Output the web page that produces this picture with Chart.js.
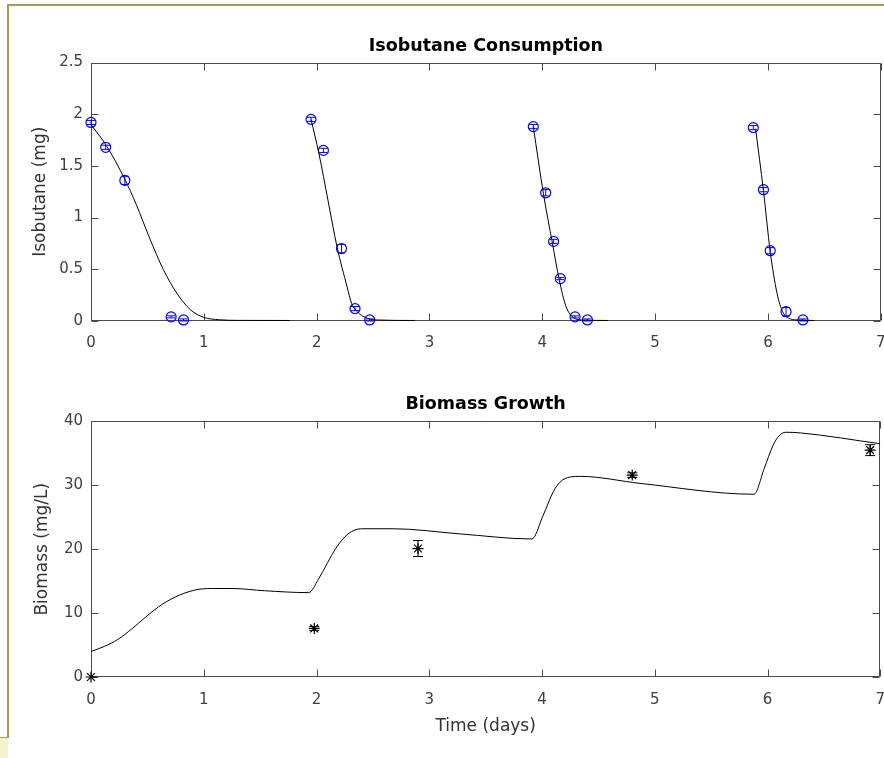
<!DOCTYPE html>
<html>
<head>
<meta charset="utf-8">
<script src="https://cdn.jsdelivr.net/npm/chart.js@4/dist/chart.umd.min.js"></script>
<style>
  html, body { margin:0; padding:0; background:#ffffff; }
  body { width:884px; height:758px; position:relative; overflow:hidden; }
  canvas { position:absolute; left:0; }
  #c1 { top:0; }
  #c2 { top:379px; }
  .frame { position:absolute; background:#9e9c55; z-index:5; }
  #boxbl { position:absolute; left:0; top:737px; width:8px; height:21px; background:#f3f3cf; border-top:1px solid #9e9c55; z-index:5; }
</style>
</head>
<body>
<canvas id="c1" width="887" height="379"></canvas>
<canvas id="c2" width="887" height="379"></canvas>
<div class="frame" style="left:7px;top:4px;width:877px;height:2px;"></div>
<div class="frame" style="left:7px;top:4px;width:2px;height:734px;"></div>
<div id="boxbl"></div>
<script>
// ---------- Data ----------
const xTickValues = [0, 1, 2, 3, 4, 5, 6, 7];

// Isobutane measurements (mg)
const isoT   = [0, 0.13, 0.30, 0.71, 0.82, 1.95, 2.06, 2.22, 2.34, 2.47, 3.92, 4.03, 4.10, 4.16, 4.29, 4.40, 5.87, 5.96, 6.02, 6.16, 6.31];
const isoY   = [1.92, 1.68, 1.36, 0.04, 0.01, 1.95, 1.65, 0.70, 0.12, 0.01, 1.88, 1.24, 0.77, 0.41, 0.04, 0.01, 1.87, 1.27, 0.68, 0.09, 0.01];
const isoErr = [0.02, 0.02, 0.04, 0.01, 0.01, 0.02, 0.02, 0.04, 0.02, 0.01, 0.02, 0.03, 0.02, 0.01, 0.01, 0.01, 0.02, 0.02, 0.03, 0.04, 0.01];

// Isobutane model curves (one per feeding cycle)
const isoModelT1 = [0, 0.14, 0.30, 0.40, 0.52, 0.64, 0.76, 0.88, 1.00, 1.14, 1.30, 1.76];
const isoModelY1 = [1.90, 1.69, 1.37, 1.13, 0.80, 0.50, 0.27, 0.11, 0.035, 0.012, 0.006, 0.005];
const isoModelT2 = [1.95, 2.02, 2.10, 2.18, 2.27, 2.31, 2.37, 2.42, 2.53, 2.87];
const isoModelY2 = [1.95, 1.62, 1.17, 0.72, 0.33, 0.17, 0.08, 0.04, 0.01, 0.005];
const isoModelT3 = [3.92, 4.01, 4.09, 4.15, 4.21, 4.28, 4.35, 4.58];
const isoModelY3 = [1.88, 1.23, 0.75, 0.40, 0.14, 0.03, 0.01, 0.005];
const isoModelT4 = [5.89, 5.96, 6.02, 6.08, 6.13, 6.20, 6.26, 6.41];
const isoModelY4 = [1.86, 1.26, 0.67, 0.27, 0.09, 0.02, 0.01, 0.005];

// Biomass measurements (mg/L)
const bioT   = [0, 1.98, 2.90, 4.80, 6.91];
const bioY   = [0, 7.6, 20.1, 31.6, 35.5];
const bioErr = [0, 0.3, 1.25, 0.35, 0.85];

// Biomass model curve
const bioModelT = [0, 0.12, 0.24, 0.36, 0.48, 0.60, 0.745, 0.92, 1.07, 1.25, 1.54, 1.93, 2.02, 2.17, 2.28, 2.40, 2.68, 3.27, 3.91, 4.01, 4.10, 4.16, 4.25, 4.34, 4.87, 5.88, 5.97, 6.05, 6.10, 6.16, 6.29, 7.0];
const bioModelY = [4.0, 4.8, 5.9, 7.5, 9.3, 11.0, 12.5, 13.6, 13.85, 13.85, 13.5, 13.2, 15.4, 20.1, 22.4, 23.2, 23.2, 22.4, 21.6, 25.3, 29.0, 30.5, 31.3, 31.4, 30.3, 28.6, 32.6, 36.3, 37.7, 38.3, 38.2, 36.5];

// ---------- Helpers ----------
const pts = (xs, ys) => xs.map((x, i) => ({ x: x, y: ys[i] }));
const fmt = v => String(Math.round(v * 100) / 100);

Chart.defaults.font.family = "'DejaVu Sans', sans-serif";
Chart.defaults.color = '#404040';

const AXIS_COLOR = '#4a4a4a';
const TICK_LEN = 7;

const boxPlugin = {
  id: 'matlabBox',
  beforeDatasetsDraw(chart) {
    const { ctx, chartArea } = chart;
    const xs = chart.scales.x, ys = chart.scales.y;
    const L = Math.round(chartArea.left) + 0.5, R = Math.round(chartArea.right) - 0.5;
    const T = Math.round(chartArea.top) + 0.5, B = Math.round(chartArea.bottom) - 0.5;
    ctx.save();
    ctx.strokeStyle = AXIS_COLOR;
    ctx.lineWidth = 1;
    ctx.beginPath();
    ctx.rect(L, T, R - L, B - T);
    xs.ticks.forEach(t => {
      const px = Math.round(xs.getPixelForValue(t.value)) + 0.5;
      ctx.moveTo(px, B); ctx.lineTo(px, B - TICK_LEN);
      ctx.moveTo(px, T); ctx.lineTo(px, T + TICK_LEN);
    });
    ys.ticks.forEach(t => {
      const py = Math.round(ys.getPixelForValue(t.value)) + 0.5;
      ctx.moveTo(L, py); ctx.lineTo(L + TICK_LEN, py);
      ctx.moveTo(R, py); ctx.lineTo(R - TICK_LEN, py);
    });
    ctx.stroke();
    ctx.restore();
  }
};

const errorBarPlugin = {
  id: 'errorBars',
  afterDatasetsDraw(chart) {
    const ctx = chart.ctx;
    const xs = chart.scales.x, ys = chart.scales.y;
    chart.data.datasets.forEach(ds => {
      if (!ds.errors) return;
      ctx.save();
      ctx.strokeStyle = ds.borderColor;
      ctx.lineWidth = 1;
      ctx.beginPath();
      ds.data.forEach((p, j) => {
        const e = ds.errors[j];
        if (!e) return;
        const px = xs.getPixelForValue(p.x);
        const y1 = ys.getPixelForValue(p.y - e);
        const y2 = ys.getPixelForValue(p.y + e);
        const h = ds.capHalf;
        ctx.moveTo(px, y1); ctx.lineTo(px, y2);
        ctx.moveTo(px - h, y1); ctx.lineTo(px + h, y1);
        ctx.moveTo(px - h, y2); ctx.lineTo(px + h, y2);
      });
      ctx.stroke();
      ctx.restore();
    });
  }
};

function xScale(height, pad, title) {
  return {
    type: 'linear', min: 0, max: 7,
    afterBuildTicks: s => { s.ticks = xTickValues.map(v => ({ value: v })); },
    ticks: { padding: pad, font: { size: 15 }, color: '#404040', maxRotation: 0, autoSkip: false, callback: fmt },
    grid: { display: false, drawTicks: false },
    border: { display: false },
    title: title,
    afterFit: s => { s.height = height; s.paddingRight = 1; s.paddingLeft = 0; }
  };
}

function yScale(max, step, title, titlePadTop) {
  return {
    type: 'linear', min: 0, max: max,
    ticks: { stepSize: step, padding: 8, font: { size: 15 }, color: '#404040', callback: fmt },
    grid: { display: false, drawTicks: false },
    border: { display: false },
    title: { display: true, text: title, font: { size: 17 }, color: '#333333', padding: { top: titlePadTop, bottom: 0 } },
    afterFit: s => { s.width = 91; }
  };
}

const lineStyle = {
  type: 'line', borderColor: '#000000', borderWidth: 1, pointRadius: 0,
  cubicInterpolationMode: 'monotone', fill: false
};

// ---------- Top chart ----------
new Chart(document.getElementById('c1'), {
  type: 'scatter',
  data: {
    datasets: [
      Object.assign({ data: pts(isoModelT1, isoModelY1) }, lineStyle),
      Object.assign({ data: pts(isoModelT2, isoModelY2) }, lineStyle),
      Object.assign({ data: pts(isoModelT3, isoModelY3) }, lineStyle),
      Object.assign({ data: pts(isoModelT4, isoModelY4) }, lineStyle),
      {
        type: 'scatter', data: pts(isoT, isoY), errors: isoErr, capHalf: 4,
        pointStyle: 'circle', pointRadius: 5, borderWidth: 1.2,
        borderColor: '#0000ff', backgroundColor: 'rgba(0,0,0,0)', clip: false
      }
    ]
  },
  options: {
    responsive: false, animation: false,
    layout: { padding: 0 },
    plugins: {
      legend: { display: false }, tooltip: { enabled: false },
      title: { display: true, fullSize: false, text: 'Isobutane Consumption', color: '#000000',
               font: { size: 17.5, weight: 'bold' }, padding: { top: 36, bottom: 5.5 } }
    },
    scales: {
      x: xScale(58, 13, { display: false }),
      y: yScale(2.5, 0.5, 'Isobutane (mg)', 30)
    }
  },
  plugins: [boxPlugin, errorBarPlugin]
});

// ---------- Bottom chart ----------
new Chart(document.getElementById('c2'), {
  type: 'scatter',
  data: {
    datasets: [
      Object.assign({ data: pts(bioModelT, bioModelY) }, lineStyle),
      {
        type: 'scatter', data: pts(bioT, bioY), errors: bioErr, capHalf: 5,
        pointStyle: 'star', pointRadius: 5.5, borderWidth: 1.2,
        borderColor: '#000000', backgroundColor: '#000000', clip: false
      }
    ]
  },
  options: {
    responsive: false, animation: false,
    layout: { padding: 0 },
    plugins: {
      legend: { display: false }, tooltip: { enabled: false },
      title: { display: true, fullSize: false, text: 'Biomass Growth', color: '#000000',
               font: { size: 17.5, weight: 'bold' }, padding: { top: 14.8, bottom: 6.6 } }
    },
    scales: {
      x: xScale(81, 14, { display: true, text: 'Time (days)', font: { size: 17 }, color: '#333333', padding: { top: 0, bottom: 20.8 } }),
      y: yScale(40, 10, 'Biomass (mg/L)', 32)
    }
  },
  plugins: [boxPlugin, errorBarPlugin]
});
</script>
</body>
</html>
